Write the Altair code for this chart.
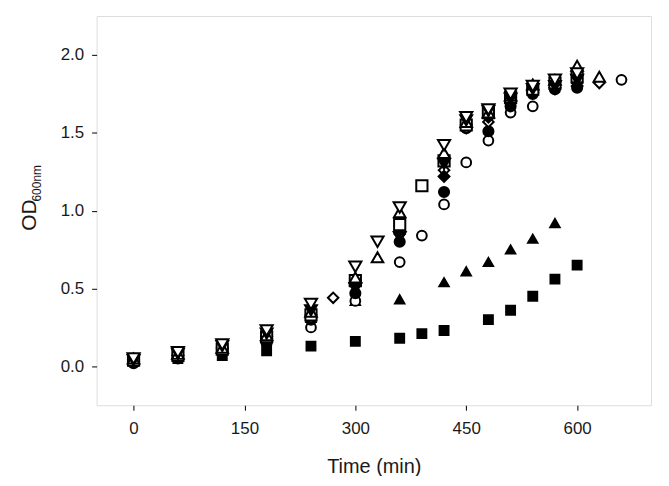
import altair as alt
import pandas as pd

# ---- data ----
x_ticks = [0, 150, 300, 450, 600]
y_ticks = [0.0, 0.5, 1.0, 1.5, 2.0]

fc_t = [0, 60, 120, 180, 240, 300, 360, 420, 450, 480, 510, 540, 570, 600]
fc_y = [0.02, 0.05, 0.09, 0.15, 0.30, 0.47, 0.80, 1.12, 1.53, 1.51, 1.67, 1.75, 1.78, 1.79]

oc_t = [0, 60, 120, 180, 240, 300, 360, 390, 420, 450, 480, 510, 540, 660]
oc_y = [0.03, 0.06, 0.10, 0.16, 0.25, 0.42, 0.67, 0.84, 1.04, 1.31, 1.45, 1.63, 1.67, 1.84]

ft_t = [0, 60, 120, 180, 240, 300, 360, 420, 450, 480, 510, 540, 570]
ft_y = [0.05, 0.08, 0.12, 0.18, 0.31, 0.42, 0.43, 0.54, 0.61, 0.67, 0.75, 0.82, 0.92]

fs_t = [0, 60, 120, 180, 240, 300, 360, 390, 420, 480, 510, 540, 570, 600]
fs_y = [0.04, 0.05, 0.07, 0.10, 0.13, 0.16, 0.18, 0.21, 0.23, 0.30, 0.36, 0.45, 0.56, 0.65]

otu_t = [0, 60, 120, 180, 240, 300, 330, 360, 420, 450, 480, 510, 540, 570, 600, 630]
otu_y = [0.05, 0.08, 0.12, 0.20, 0.35, 0.57, 0.70, 0.99, 1.37, 1.57, 1.63, 1.74, 1.81, 1.84, 1.93, 1.86]

otd_t = [0, 60, 120, 180, 240, 300, 330, 360, 420, 450, 480, 510, 540, 570, 600]
otd_y = [0.05, 0.09, 0.14, 0.23, 0.40, 0.64, 0.80, 1.02, 1.42, 1.60, 1.65, 1.75, 1.80, 1.84, 1.88]

os_t = [0, 60, 120, 180, 240, 300, 360, 390, 420, 450, 480, 510, 540, 570, 600]
os_y = [0.04, 0.07, 0.11, 0.19, 0.33, 0.55, 0.91, 1.16, 1.32, 1.55, 1.63, 1.73, 1.78, 1.82, 1.86]

od_t = [0, 60, 120, 180, 240, 270, 360, 420, 450, 480, 510, 540, 570, 600, 630]
od_y = [0.04, 0.07, 0.11, 0.18, 0.31, 0.44, 0.85, 1.26, 1.53, 1.57, 1.70, 1.77, 1.78, 1.82, 1.82]

fd_t = [0, 60, 120, 180, 240, 300, 360, 420, 450, 480, 510, 540, 570, 600]
fd_y = [0.03, 0.07, 0.12, 0.19, 0.33, 0.52, 0.86, 1.22, 1.55, 1.60, 1.69, 1.76, 1.79, 1.80]

ftd_t = [0, 60, 120, 180, 240, 300, 360, 420, 450, 480, 510, 540, 570, 600]
ftd_y = [0.04, 0.08, 0.13, 0.21, 0.36, 0.50, 0.83, 1.30, 1.58, 1.64, 1.72, 1.78, 1.80, 1.84]

series_names = ["fs", "ft", "oc", "fc", "od", "fd", "os", "otu", "ftd", "otd"]
series_shapes = ["square", "triangle-up", "circle", "circle", "diamond", "diamond",
                 "square", "triangle-up", "triangle-down", "triangle-down"]
series_fills = ["black", "black", "white", "black", "white", "black",
                "white", "white", "black", "white"]
series_sizes = [80, 150, 150, 140, 190, 170, 125, 160, 150, 160]
series_data = {
    "fs": (fs_t, fs_y), "ft": (ft_t, ft_y), "oc": (oc_t, oc_y), "fc": (fc_t, fc_y),
    "od": (od_t, od_y), "fd": (fd_t, fd_y), "os": (os_t, os_y), "otu": (otu_t, otu_y),
    "ftd": (ftd_t, ftd_y), "otd": (otd_t, otd_y),
}

rows = []
for order, name in enumerate(series_names):
    ts, ys = series_data[name]
    for t, v in zip(ts, ys):
        rows.append({"series": name, "time": t, "od": v, "order": order})
df = pd.DataFrame(rows)

FONT = "Liberation Sans"
TXT = "#1a1a1a"

points = alt.Chart(df).mark_point(
    filled=True, stroke="black", strokeWidth=2, opacity=1, fillOpacity=1
).encode(
    x=alt.X("time:Q", scale=alt.Scale(domain=[-50, 700], nice=False, zero=False),
            axis=alt.Axis(values=x_ticks, title="Time (min)", grid=False,
                          tickSize=5, tickColor="black", labelPadding=10,
                          labelFontSize=17, labelFont=FONT, labelColor=TXT,
                          titleFont=FONT, titleFontSize=20, titleFontWeight="normal",
                          titleColor=TXT, titleY=62, titleBaseline="middle",
                          domain=False)),
    y=alt.Y("od:Q", scale=alt.Scale(domain=[-0.25, 2.25], nice=False, zero=False),
            axis=alt.Axis(values=y_ticks, format=".1f", title=None, grid=False,
                          tickSize=5, tickColor="black", labelPadding=8,
                          labelFontSize=17, labelFont=FONT, labelColor=TXT,
                          domain=False)),
    shape=alt.Shape("series:N", scale=alt.Scale(domain=series_names, range=series_shapes), legend=None),
    fill=alt.Fill("series:N", scale=alt.Scale(domain=series_names, range=series_fills), legend=None),
    size=alt.Size("series:N", scale=alt.Scale(domain=series_names, range=series_sizes), legend=None),
    order=alt.Order("order:Q"),
)

od_label = alt.Chart(pd.DataFrame({"t": ["OD"]})).mark_text(
    angle=270, fontSize=21, font=FONT, color=TXT, align="center", baseline="middle"
).encode(x=alt.value(-67), y=alt.value(200), text="t:N")

sub_label = alt.Chart(pd.DataFrame({"t": ["600nm"]})).mark_text(
    angle=270, fontSize=12, font=FONT, color=TXT, align="center", baseline="middle"
).encode(x=alt.value(-60), y=alt.value(168), text="t:N")

chart = alt.layer(points, od_label, sub_label).properties(
    width=557, height=391,
    autosize="none",
    padding={"left": 89, "top": 7, "right": 10, "bottom": 70},
).configure_view(stroke="black", strokeWidth=1.5).configure(background="white")

chart.save("out.html", embed_options={"renderer": "svg", "actions": False})
